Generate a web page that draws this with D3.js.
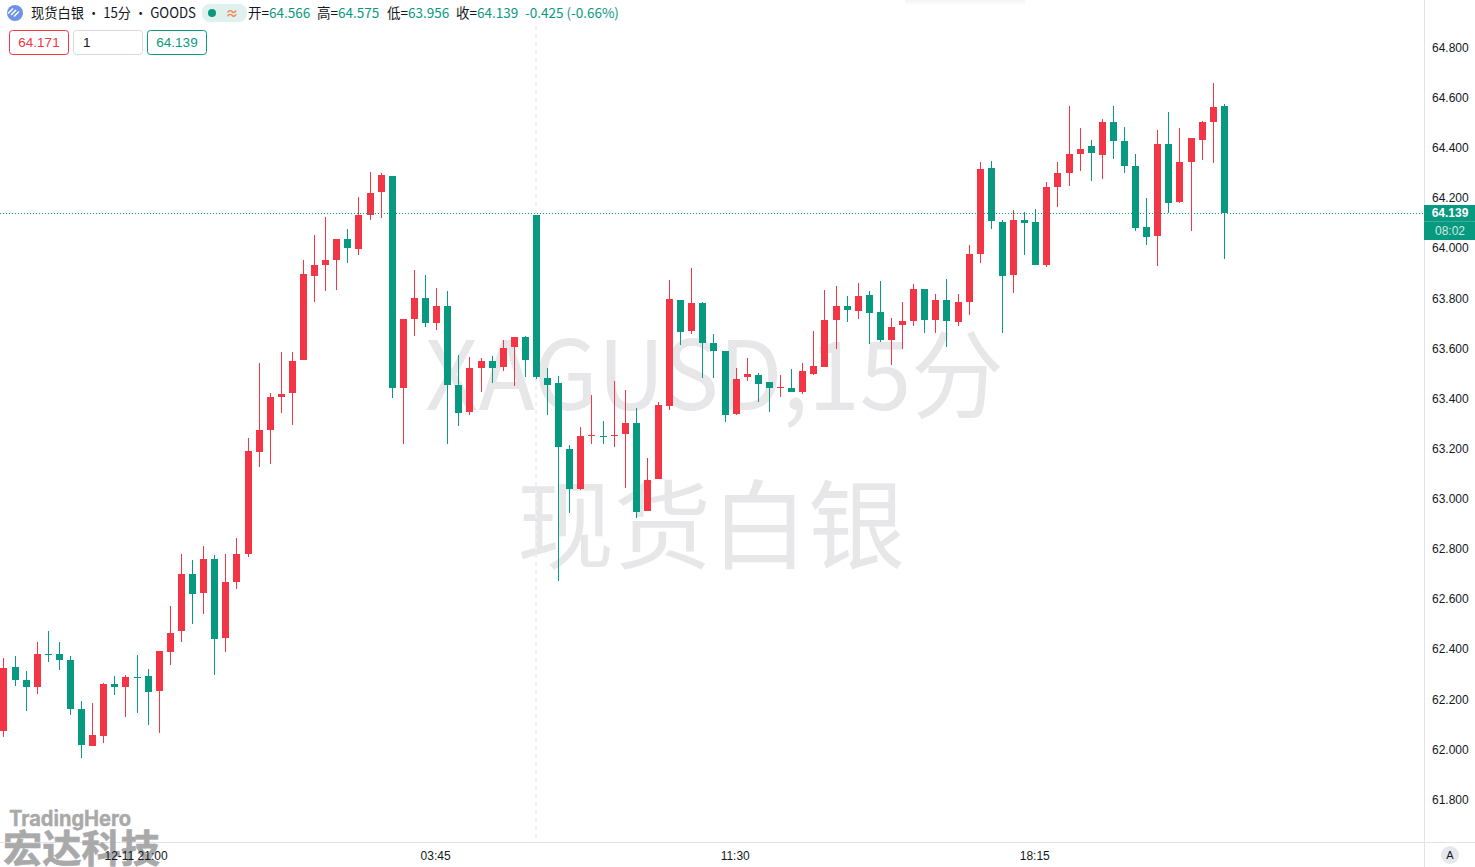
<!DOCTYPE html>
<html>
<head>
<meta charset="utf-8">
<script src="https://cdn.jsdelivr.net/npm/d3@7/dist/d3.min.js"></script>
<style>
html,body{margin:0;padding:0;background:#fff;overflow:hidden}
svg{display:block}
text{font-family:"Liberation Sans","Noto Sans CJK SC",sans-serif}
</style>
</head>
<body>
<svg id="c" width="1475" height="867"></svg>
<script>
const opens=[62.073,62.329,62.277,62.249,62.380,62.380,62.357,62.161,62.013,62.053,62.261,62.249,62.289,62.293,62.233,62.389,62.472,62.700,62.624,62.760,62.444,62.668,62.780,63.186,63.274,63.406,63.422,63.554,63.889,63.933,63.953,64.036,63.996,64.132,64.224,64.288,63.442,63.717,63.801,63.701,63.769,63.454,63.346,63.522,63.550,63.526,63.605,63.645,64.132,63.482,63.462,63.198,63.039,63.250,63.250,63.250,63.258,63.302,62.951,63.079,63.370,63.793,63.669,63.781,63.621,63.589,63.338,63.486,63.494,63.466,63.442,63.442,63.426,63.498,63.526,63.713,63.769,63.749,63.813,63.745,63.633,63.693,63.709,63.837,63.713,63.793,63.705,63.785,63.977,64.320,64.104,63.893,64.112,64.104,63.933,64.244,64.300,64.376,64.407,64.372,64.503,64.427,64.328,64.084,64.048,64.415,64.184,64.344,64.431,64.503,64.566];
const highs=[62.365,62.373,62.313,62.428,62.472,62.428,62.373,62.193,62.185,62.265,62.293,62.297,62.376,62.321,62.393,62.572,62.780,62.756,62.812,62.776,62.780,62.844,63.242,63.542,63.422,63.585,63.585,63.953,64.052,64.124,64.036,64.076,64.204,64.304,64.300,64.288,63.717,63.913,63.893,63.841,63.829,63.574,63.566,63.562,63.570,63.633,63.645,63.649,64.132,63.522,63.490,63.214,63.286,63.414,63.310,63.470,63.434,63.362,63.163,63.386,63.873,63.793,63.921,63.785,63.657,63.589,63.522,63.562,63.502,63.466,63.494,63.518,63.542,63.669,63.833,63.849,63.809,63.861,63.829,63.869,63.721,63.785,63.857,63.837,63.817,63.877,63.817,64.012,64.344,64.348,64.112,64.152,64.144,64.156,64.264,64.344,64.567,64.479,64.431,64.515,64.567,64.483,64.376,64.200,64.471,64.543,64.479,64.439,64.507,64.659,64.575];
const lows=[62.049,62.253,62.153,62.221,62.349,62.317,62.137,61.966,62.013,62.025,62.217,62.129,62.145,62.097,62.065,62.337,62.428,62.500,62.540,62.297,62.389,62.640,62.768,63.126,63.138,63.342,63.294,63.554,63.785,63.829,63.833,63.941,63.973,64.112,64.120,63.402,63.218,63.649,63.685,63.673,63.218,63.290,63.334,63.426,63.462,63.510,63.450,63.486,63.478,63.334,62.672,62.943,63.035,63.218,63.218,63.206,63.043,62.923,62.951,63.079,63.354,63.613,63.657,63.482,63.482,63.306,63.334,63.470,63.386,63.346,63.406,63.426,63.418,63.494,63.526,63.597,63.705,63.717,63.617,63.625,63.534,63.597,63.689,63.661,63.661,63.605,63.689,63.733,63.941,64.076,63.661,63.821,63.973,63.933,63.925,64.164,64.248,64.308,64.268,64.276,64.356,64.300,64.068,64.012,63.929,64.140,64.180,64.068,64.352,64.340,63.956];
const closes=[62.325,62.277,62.249,62.380,62.376,62.357,62.161,62.017,62.057,62.261,62.249,62.289,62.285,62.229,62.393,62.464,62.700,62.620,62.760,62.440,62.668,62.780,63.190,63.274,63.406,63.418,63.550,63.897,63.933,63.953,64.036,64.000,64.132,64.220,64.292,63.442,63.717,63.801,63.701,63.769,63.454,63.342,63.522,63.550,63.522,63.601,63.645,63.554,63.486,63.454,63.206,63.039,63.250,63.254,63.246,63.254,63.302,62.947,63.075,63.374,63.797,63.665,63.781,63.621,63.589,63.334,63.478,63.498,63.458,63.442,63.446,63.426,63.510,63.530,63.713,63.769,63.753,63.809,63.741,63.633,63.685,63.709,63.837,63.713,63.793,63.709,63.785,63.977,64.316,64.108,63.889,64.112,64.100,63.933,64.244,64.300,64.376,64.395,64.380,64.503,64.427,64.328,64.080,64.044,64.415,64.180,64.344,64.439,64.503,64.563,64.139];
const priceTicks=[64.8,64.6,64.4,64.2,64.0,63.8,63.6,63.4,63.2,63.0,62.8,62.6,62.4,62.2,62.0,61.8];
const timeIdx=[12,39,66,93];
const timeLabels=["12-11 21:00","03:45","11:30","18:15"];
const legendLabels=[["开=","64.566"],["高=","64.575"],["低=","63.956"],["收=","64.139"]];
const lastPrice=64.139, crossIdx=48;

const UP="#f23645",DOWN="#089981",INK="#131722";
const svg=d3.select("#c");
const W=1475,H=867,axisX=1424,axisY=842;
const x=d3.scaleLinear().domain([0,110]).range([3.42,1223.87]);
const y=d3.scaleLinear().domain([61.8,64.8]).range([799.5,47.6]);
const cjk='"Noto Sans CJK SC","Liberation Sans",sans-serif';

// faint toolbar shadow at the top edge
const defs=svg.append("defs");
const sh=defs.append("linearGradient").attr("id","sh").attr("x1",0).attr("x2",0).attr("y1",0).attr("y2",1);
sh.append("stop").attr("offset",0).attr("stop-color","#f3f3f3");
sh.append("stop").attr("offset",1).attr("stop-color","#ffffff");
svg.append("rect").attr("x",905).attr("y",0).attr("width",120).attr("height",5).attr("fill","url(#sh)");

// watermarks
const wm=svg.append("g").attr("fill","#e7e7e9");
wm.append("text").attr("x",425).attr("y",410).attr("font-size",96).style("font-family",cjk)
  .attr("textLength",579).attr("lengthAdjust","spacingAndGlyphs").text("XAGUSD,15分");
wm.append("text").attr("x",711).attr("y",561).attr("text-anchor","middle").attr("font-size",97).style("font-family",cjk).text("现货白银");

// crosshair
svg.append("line").attr("x1",Math.round(x(crossIdx))).attr("x2",Math.round(x(crossIdx)))
  .attr("y1",26).attr("y2",axisY).attr("stroke","#eef0f3").attr("stroke-width",2).attr("stroke-dasharray","4 4");

// axes borders
svg.append("line").attr("x1",axisX+.5).attr("x2",axisX+.5).attr("y1",0).attr("y2",H).attr("stroke","#e0e3eb");
svg.append("line").attr("x1",0).attr("x2",W).attr("y1",axisY+.5).attr("y2",axisY+.5).attr("stroke","#e0e3eb");

// candles
const data=d3.range(opens.length).map(i=>({i,o:opens[i],h:highs[i],l:lows[i],c:closes[i]}));
const g=svg.append("g").attr("shape-rendering","crispEdges");
g.selectAll("line").data(data).join("line")
  .attr("x1",d=>Math.round(x(d.i))+.5).attr("x2",d=>Math.round(x(d.i))+.5)
  .attr("y1",d=>y(d.h)).attr("y2",d=>y(d.l))
  .attr("stroke",d=>d.c>=d.o?UP:DOWN);
g.selectAll("rect").data(data).join("rect")
  .attr("x",d=>Math.round(x(d.i))-3).attr("width",7)
  .attr("y",d=>Math.round(y(Math.max(d.o,d.c))))
  .attr("height",d=>Math.max(1,Math.round(y(Math.min(d.o,d.c)))-Math.round(y(Math.max(d.o,d.c)))))
  .attr("fill",d=>d.c>=d.o?UP:DOWN);

// last price line
svg.append("line").attr("x1",0).attr("x2",axisX).attr("y1",Math.round(y(lastPrice))+.5).attr("y2",Math.round(y(lastPrice))+.5)
  .attr("stroke",DOWN).attr("stroke-dasharray","1 2");

// logo (under the time labels)
const logo=svg.append("g").attr("fill","#a9a9a9").attr("stroke","#a9a9a9").attr("font-weight",700);
logo.append("text").attr("x",9).attr("y",826).attr("font-size",21).attr("stroke-width",.4).style("font-family",'Inter,"Liberation Sans",sans-serif')
  .attr("textLength",122).attr("lengthAdjust","spacingAndGlyphs").text("TradingHero");
logo.append("text").attr("x",3).attr("y",862).attr("font-size",38).attr("stroke-width",.7).style("font-family",cjk)
  .attr("textLength",157).attr("lengthAdjust","spacingAndGlyphs").text("宏达科技");

// price axis
const py=svg.append("g").attr("transform",`translate(${axisX},0)`)
  .call(d3.axisRight(y).tickValues(priceTicks).tickSize(0).tickPadding(8).tickFormat(d3.format(".3f")));
py.select(".domain").remove();
py.selectAll("text").attr("font-size",12).attr("fill",INK).style("font-family",'"Liberation Sans",sans-serif');

// time axis
const tx=svg.append("g").attr("transform",`translate(-1,${axisY})`)
  .call(d3.axisBottom(x).tickValues(timeIdx).tickSize(0).tickPadding(9).tickFormat((d,i)=>timeLabels[i]));
tx.select(".domain").remove();
tx.selectAll("text").attr("font-size",12).attr("fill",INK).style("font-family",'"Liberation Sans",sans-serif');

// price tag
const tag=svg.append("g");
tag.append("rect").attr("x",axisX).attr("y",205).attr("width",51).attr("height",35).attr("fill",DOWN);
tag.append("line").attr("x1",axisX).attr("x2",W).attr("y1",221.5).attr("y2",221.5).attr("stroke","#3aad9a");
tag.append("text").attr("x",1450).attr("y",217).attr("text-anchor","middle").attr("fill","#fff").attr("font-size",12).attr("font-weight",700).text(d3.format(".3f")(lastPrice));
tag.append("text").attr("x",1450).attr("y",235).attr("text-anchor","middle").attr("fill","#cfeae4").attr("font-size",12).text("08:02");

// header
const hd=svg.append("g").style("font-family",cjk);
hd.append("circle").attr("cx",15).attr("cy",13).attr("r",8).attr("fill","#6d93e6");
[-3,0,3].forEach(k=>hd.append("line").attr("x1",11+k).attr("x2",16+k).attr("y1",15+k/2).attr("y2",10+k/2).attr("stroke","#fff").attr("stroke-width",1.4));
hd.append("text").attr("x",31).attr("y",18).attr("font-size",14).attr("fill",INK).style("font-family",cjk)
  .attr("textLength",165).attr("lengthAdjust","spacingAndGlyphs").text("现货白银 • 15分 • GOODS");
hd.append("rect").attr("x",202).attr("y",4).attr("width",45).attr("height",18).attr("rx",8).attr("fill","#dff1ed");
hd.append("circle").attr("cx",212).attr("cy",13).attr("r",4).attr("fill",DOWN);
hd.append("text").attr("x",232).attr("y",18).attr("text-anchor","middle").attr("font-size",13).attr("font-weight",700).attr("fill","#f7845a").style("font-family",cjk).text("≈");
const legX=[248,317,387,456];
legendLabels.forEach((l,i)=>{
  const t=hd.append("text").attr("x",legX[i]).attr("y",18).attr("font-size",13.5).attr("fill",INK).style("font-family",cjk);
  t.append("tspan").text(l[0]);
  t.append("tspan").attr("fill",DOWN).text(l[1]);
});
hd.append("text").attr("x",525).attr("y",18).attr("font-size",13.5).attr("fill",DOWN).style("font-family",cjk).text("-0.425 (-0.66%)");

// order boxes
const boxes=[{x:9,w:60,s:UP,t:"64.171",c:UP},{x:73,w:70,s:"#d8dae2",t:"1",c:INK,left:true},{x:147,w:60,s:DOWN,t:"64.139",c:DOWN}];
boxes.forEach(b=>{
  hd.append("rect").attr("x",b.x+.5).attr("y",30.5).attr("width",b.w-1).attr("height",24).attr("rx",3).attr("fill","#fff").attr("stroke",b.s);
  hd.append("text").attr("x",b.left?b.x+10:b.x+b.w/2).attr("y",47).attr("text-anchor",b.left?"start":"middle").attr("font-size",13.5).attr("fill",b.c).style("font-family",'"Liberation Sans",sans-serif').text(b.t);
});

// auto button
svg.append("circle").attr("cx",1450).attr("cy",855).attr("r",9).attr("fill","#e6e7ec");
svg.append("text").attr("x",1450).attr("y",859).attr("text-anchor","middle").attr("font-size",11).attr("fill",INK).text("A");
</script>
</body>
</html>
